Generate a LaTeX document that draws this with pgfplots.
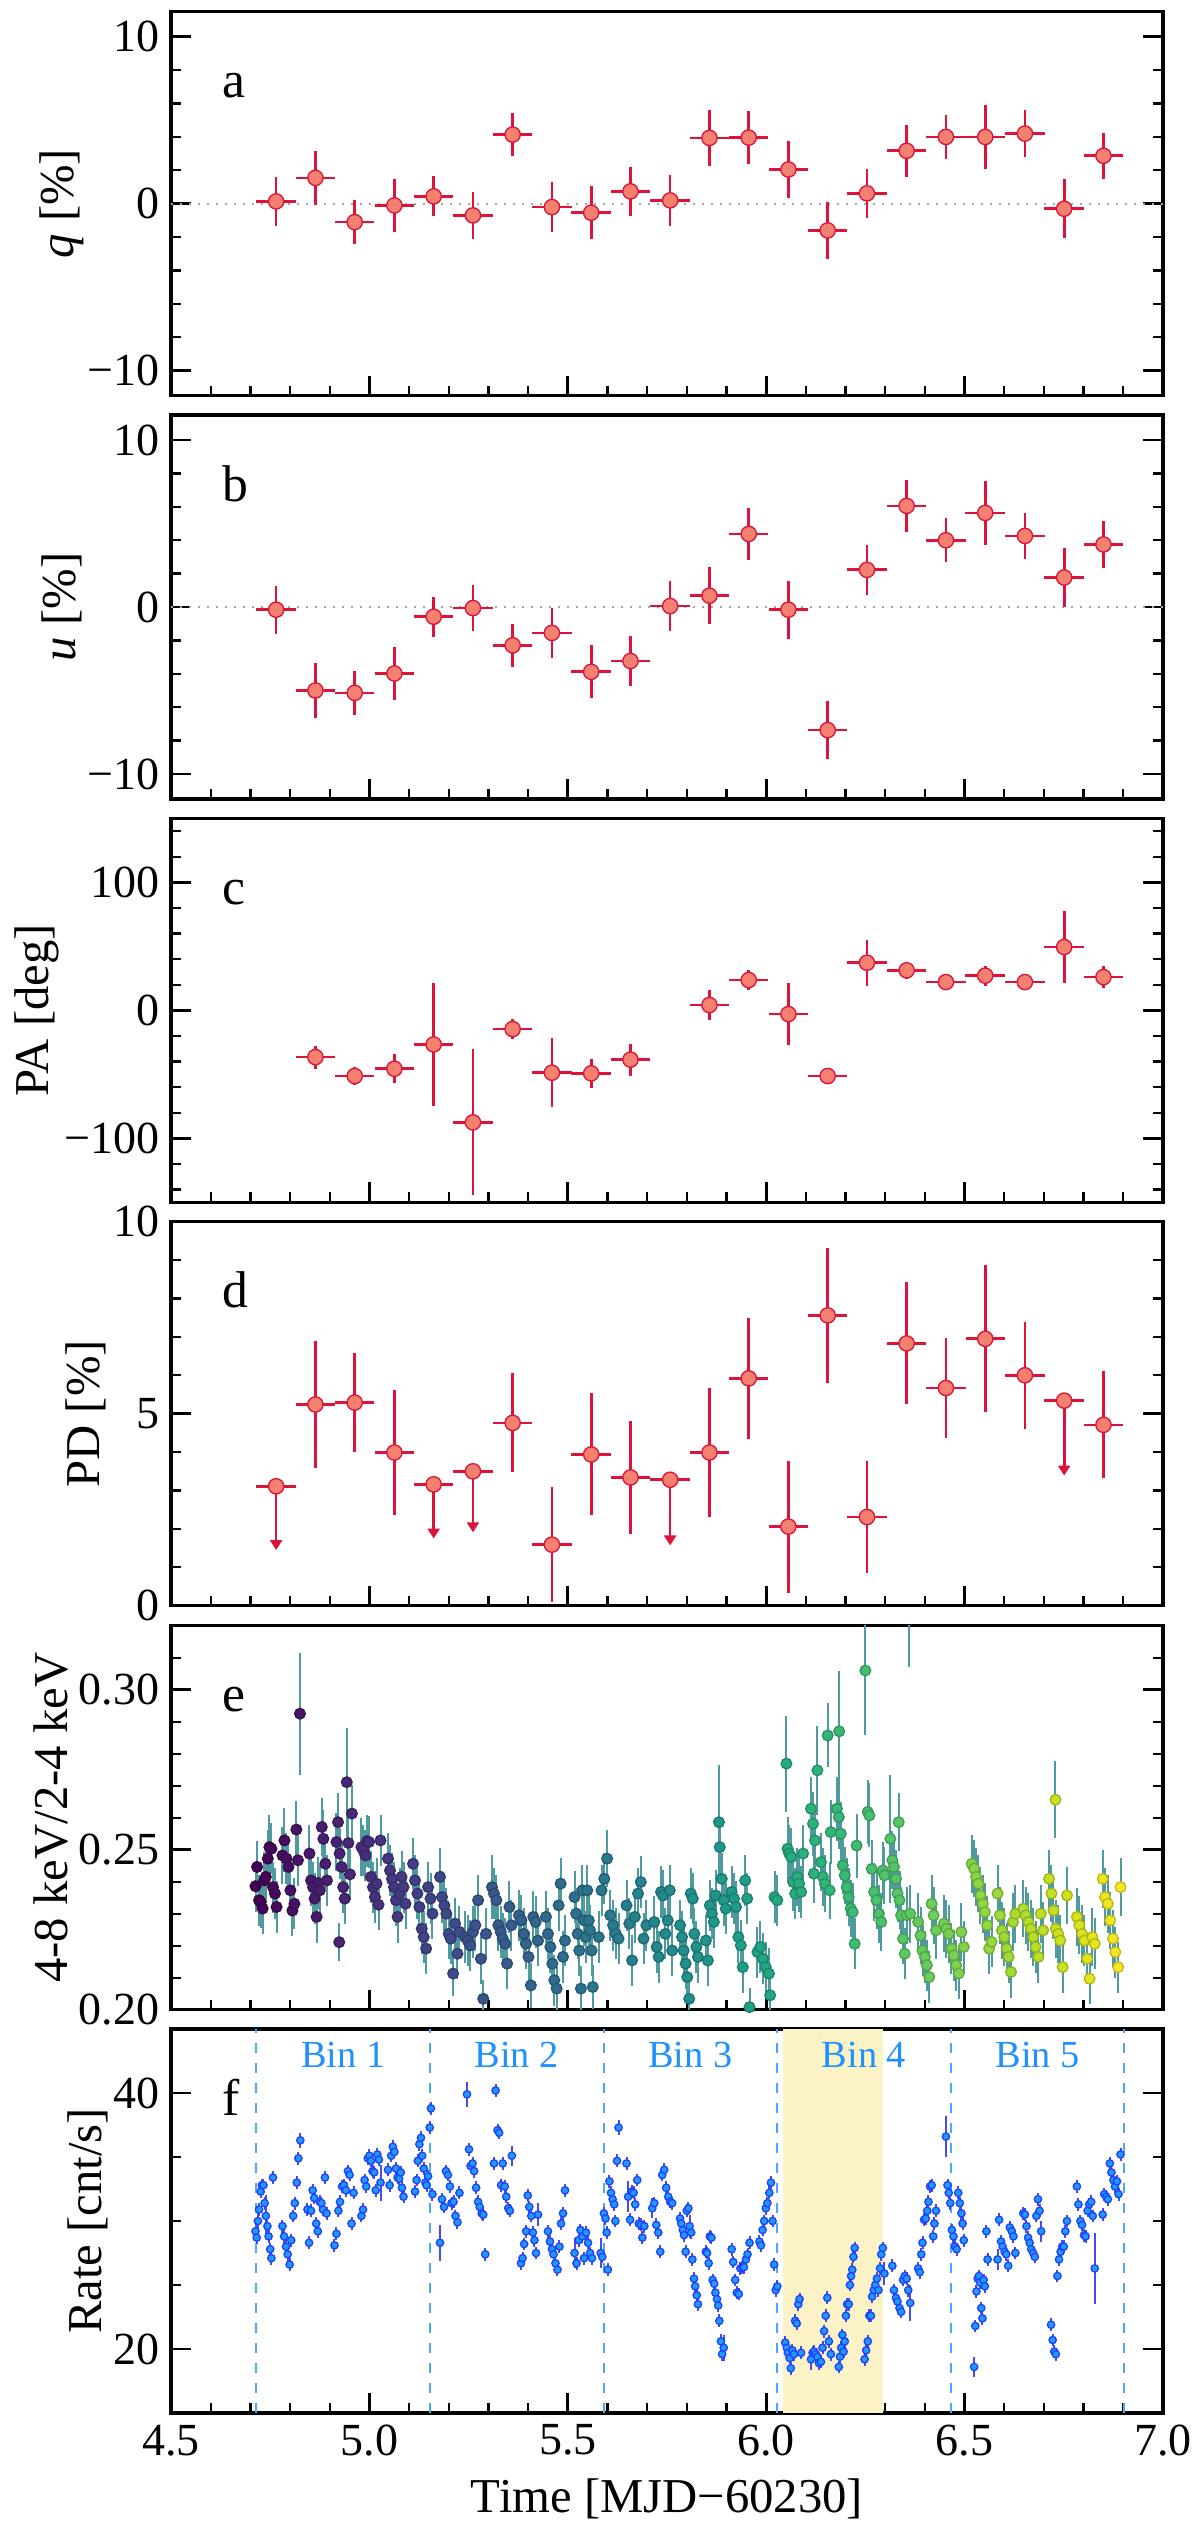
\documentclass[border=0pt]{standalone}
\usepackage{pgfplots}
\pgfplotsset{compat=1.18}
\usepackage{pgfplotstable}
\usepackage{fontspec}
\setmainfont{Liberation Serif}
\usetikzlibrary{arrows.meta}
\definecolor{crim}{HTML}{DC143C}
\definecolor{salm}{HTML}{F4806F}
\definecolor{errteal}{HTML}{4F9A9E}
\definecolor{fedge}{HTML}{2040FF}
\definecolor{ffill}{HTML}{1E9BFF}
\definecolor{ferr}{HTML}{4B4BE6}
\definecolor{binblue}{HTML}{1E90FF}
\definecolor{bindash}{HTML}{4DA6FF}
\definecolor{shade}{HTML}{FBF2C6}
\newcommand\tfs{\fontsize{13.8}{14}\selectfont}
\newcommand\lfs{\fontsize{14.6}{15}\selectfont}
\newcommand\pfs{\fontsize{15.5}{16}\selectfont}

\pgfplotstableread[row sep=\\]{
x y e\\
4.765 0.14 1.45\\ 4.864 1.55 1.6\\ 4.963 -1.1 1.3\\ 5.063 -0.1 1.6\\ 5.162 0.44 1.2\\
5.261 -0.7 1.4\\ 5.361 4.14 1.27\\ 5.460 -0.2 1.5\\ 5.559 -0.54 1.6\\ 5.658 0.74 1.47\\
5.758 0.2 1.53\\ 5.857 3.94 1.7\\ 5.956 3.96 1.57\\ 6.056 2.05 1.72\\ 6.155 -1.6 1.72\\
6.254 0.62 1.46\\ 6.354 3.17 1.57\\ 6.453 4.0 1.3\\ 6.552 4.0 1.9\\ 6.652 4.2 1.4\\
6.751 -0.3 1.76\\ 6.850 2.87 1.37\\
}\tabq
\pgfplotstableread[row sep=\\]{
x y e\\
4.765 -0.16 1.45\\ 4.864 -5.0 1.65\\ 4.963 -5.14 1.3\\ 5.063 -3.98 1.6\\ 5.162 -0.58 1.2\\
5.261 -0.06 1.4\\ 5.361 -2.29 1.28\\ 5.460 -1.55 1.5\\ 5.559 -3.88 1.58\\ 5.658 -3.23 1.48\\
5.758 0.06 1.52\\ 5.857 0.68 1.7\\ 5.956 4.38 1.58\\ 6.056 -0.16 1.73\\ 6.155 -7.37 1.75\\
6.254 2.23 1.48\\ 6.354 6.06 1.57\\ 6.453 4.0 1.33\\ 6.552 5.64 1.9\\ 6.652 4.26 1.4\\
6.751 1.77 1.76\\ 6.850 3.75 1.4\\
}\tabu
\pgfplotstableread[row sep=\\]{
x y e\\
4.864 -36.5 9\\ 4.963 -51.3 7\\ 5.063 -45.6 11.5\\ 5.162 -26.6 48\\ 5.261 -87.5 57\\
5.361 -14.6 7.5\\ 5.460 -48.7 27\\ 5.559 -49.2 11.3\\ 5.658 -38.5 12.5\\
5.857 4.2 12\\ 5.956 23.7 7.5\\ 6.056 -2.9 24\\ 6.155 -51.3 6.2\\ 6.254 37.2 18\\
6.354 31.3 6.5\\ 6.453 22.1 6.4\\ 6.552 27.1 7.8\\ 6.652 22.1 6.5\\ 6.751 49.5 28\\
6.850 26.0 8.3\\
}\tabpa
\pgfplotstableread[row sep=\\]{
x y e\\
4.864 5.24 1.66\\ 4.963 5.29 1.3\\ 5.063 3.99 1.63\\ 5.361 4.76 1.29\\ 5.460 1.59 1.49\\
5.559 3.94 1.59\\ 5.658 3.34 1.48\\ 5.857 3.99 1.68\\ 5.956 5.92 1.58\\ 6.056 2.06 1.72\\
6.155 7.56 1.75\\ 6.254 2.31 1.47\\ 6.354 6.83 1.59\\ 6.453 5.67 1.31\\ 6.552 6.95 1.91\\
6.652 6.0 1.39\\ 6.850 4.71 1.39\\
}\tabpd
\pgfplotstableread[row sep=\\]{
x y v\\
4.765 3.11 -1.66\\ 5.162 3.16 -1.41\\ 5.261 3.50 -1.59\\ 5.758 3.28 -1.71\\ 6.751 5.34 -1.95\\
}\tabul
\pgfplotstableread[row sep=\\]{
x y e\\
4.713 0.2386 0.008\\ 4.717 0.2446 0.008\\ 4.722 0.2342 0.008\\ 4.726 0.2336 0.008\\ 4.731 0.2316 0.008\\
4.735 0.2404 0.009\\ 4.739 0.2415 0.008\\ 4.744 0.2472 0.009\\ 4.748 0.2508 0.010\\ 4.753 0.2503 0.008\\
4.757 0.2383 0.008\\ 4.762 0.2363 0.008\\ 4.766 0.2321 0.008\\
4.781 0.2482 0.009\\ 4.786 0.2529 0.010\\ 4.791 0.2472 0.008\\ 4.796 0.2446 0.008\\ 4.801 0.2373 0.008\\
4.806 0.2310 0.008\\ 4.811 0.2331 0.008\\ 4.816 0.2563 0.009\\ 4.820 0.2467 0.008\\ 4.825 0.2925 0.019\\
4.849 0.2488 0.009\\ 4.853 0.2404 0.008\\ 4.858 0.2383 0.008\\ 4.862 0.2347 0.008\\ 4.867 0.2290 0.008\\
4.871 0.2396 0.008\\ 4.875 0.2373 0.008\\ 4.880 0.2571 0.009\\ 4.884 0.2534 0.009\\ 4.889 0.2456 0.008\\ 4.893 0.2404 0.008\\
4.917 0.2524 0.009\\ 4.921 0.2586 0.009\\ 4.925 0.2488 0.008\\ 4.930 0.2446 0.008\\ 4.934 0.2383 0.008\\
4.938 0.2347 0.008\\ 4.924 0.2211 0.006\\ 4.943 0.2711 0.017\\ 4.947 0.2521 0.009\\ 4.951 0.2423 0.008\\ 4.956 0.2613 0.009\\
4.980 0.2508 0.009\\ 4.985 0.2498 0.008\\ 4.990 0.2482 0.008\\ 4.994 0.2527 0.008\\ 4.999 0.2524 0.008\\
5.004 0.2415 0.008\\ 5.009 0.2383 0.008\\ 5.014 0.2352 0.008\\ 5.018 0.2394 0.008\\ 5.023 0.2328 0.008\\ 5.028 0.2529 0.008\\
5.047 0.2472 0.008\\ 5.052 0.2435 0.008\\ 5.057 0.2409 0.008\\ 5.062 0.2383 0.008\\ 5.067 0.2342 0.008\\
5.071 0.2290 0.008\\ 5.076 0.2363 0.008\\ 5.081 0.2415 0.008\\ 5.086 0.2383 0.008\\ 5.091 0.2331 0.008\\
5.110 0.2456 0.008\\ 5.115 0.2404 0.008\\ 5.121 0.2363 0.008\\ 5.126 0.2321 0.008\\ 5.132 0.2253 0.008\\
5.137 0.2227 0.008\\ 5.143 0.2191 0.008\\ 5.148 0.2383 0.008\\ 5.154 0.2347 0.008\\ 5.159 0.2300 0.008\\
5.178 0.2415 0.009\\ 5.183 0.2352 0.008\\ 5.189 0.2326 0.008\\ 5.194 0.2300 0.008\\ 5.200 0.2237 0.008\\
5.205 0.2222 0.008\\ 5.211 0.2113 0.007\\ 5.216 0.2269 0.008\\ 5.222 0.2175 0.008\\ 5.227 0.2243 0.008\\
5.241 0.2227 0.008\\ 5.248 0.2216 0.008\\ 5.254 0.2201 0.008\\ 5.261 0.2243 0.008\\ 5.267 0.2264 0.008\\
5.274 0.2342 0.008\\ 5.281 0.2159 0.008\\ 5.287 0.2034 0.006\\ 5.294 0.2237 0.008\\
5.309 0.2383 0.010\\ 5.314 0.2363 0.008\\ 5.320 0.2342 0.008\\ 5.325 0.2264 0.008\\ 5.331 0.2243 0.008\\
5.336 0.2222 0.008\\ 5.342 0.2206 0.008\\ 5.347 0.2144 0.008\\ 5.353 0.2321 0.008\\ 5.358 0.2264 0.008\\
5.377 0.2295 0.008\\ 5.383 0.2279 0.008\\ 5.389 0.2237 0.008\\ 5.395 0.2206 0.008\\ 5.401 0.2165 0.008\\
5.407 0.2076 0.007\\ 5.413 0.2290 0.008\\ 5.419 0.2274 0.008\\ 5.425 0.2216 0.008\\
5.445 0.2290 0.008\\ 5.450 0.2237 0.008\\ 5.456 0.2196 0.008\\ 5.461 0.2144 0.008\\ 5.466 0.2092 0.008\\
5.472 0.2066 0.007\\ 5.477 0.2326 0.008\\ 5.482 0.2394 0.008\\ 5.488 0.2165 0.008\\ 5.493 0.2216 0.008\\
5.517 0.2352 0.008\\ 5.521 0.2300 0.008\\ 5.525 0.2237 0.008\\ 5.529 0.2185 0.008\\ 5.533 0.2066 0.007\\
5.537 0.2373 0.008\\ 5.541 0.2279 0.008\\ 5.545 0.2227 0.008\\ 5.549 0.2373 0.008\\ 5.553 0.2279 0.008\\
5.556 0.2248 0.008\\ 5.560 0.2185 0.008\\ 5.563 0.2071 0.007\\
5.578 0.2227 0.008\\ 5.585 0.2373 0.008\\ 5.592 0.2409 0.008\\ 5.599 0.2472 0.009\\ 5.607 0.2295 0.008\\
5.614 0.2264 0.008\\ 5.621 0.2237 0.008\\ 5.628 0.2222 0.008\\
5.648 0.2326 0.008\\ 5.655 0.2269 0.008\\ 5.662 0.2154 0.008\\ 5.669 0.2290 0.008\\ 5.677 0.2363 0.008\\
5.684 0.2399 0.008\\ 5.691 0.2222 0.008\\ 5.698 0.2264 0.008\\
5.718 0.2274 0.008\\ 5.724 0.2196 0.008\\ 5.729 0.2165 0.008\\ 5.735 0.2368 0.008\\ 5.740 0.2357 0.008\\
5.746 0.2237 0.008\\ 5.752 0.2279 0.008\\ 5.757 0.2373 0.008\\ 5.763 0.2185 0.008\\
5.783 0.2264 0.008\\ 5.788 0.2227 0.008\\ 5.792 0.2185 0.008\\ 5.797 0.2144 0.008\\ 5.801 0.2102 0.008\\
5.806 0.2034 0.007\\ 5.810 0.2363 0.008\\ 5.815 0.2347 0.008\\ 5.819 0.2237 0.008\\ 5.824 0.2196 0.008\\ 5.828 0.2165 0.008\\
5.848 0.2216 0.008\\ 5.853 0.2154 0.008\\ 5.858 0.2326 0.008\\ 5.863 0.2300 0.008\\ 5.868 0.2274 0.008\\
5.873 0.2357 0.008\\ 5.881 0.2586 0.018\\ 5.883 0.2508 0.009\\ 5.888 0.2409 0.008\\ 5.893 0.2342 0.008\\ 5.898 0.2316 0.008\\
5.913 0.2368 0.008\\ 5.919 0.2347 0.008\\ 5.924 0.2321 0.008\\ 5.930 0.2227 0.008\\ 5.936 0.2201 0.008\\
5.941 0.2133 0.008\\ 5.947 0.2404 0.008\\ 5.952 0.2347 0.008\\ 5.958 0.2008 0.006\\
5.978 0.2180 0.008\\ 5.985 0.2196 0.008\\ 5.992 0.2159 0.008\\ 5.999 0.2133 0.008\\ 6.007 0.2113 0.008\\
6.010 0.2045 0.007\\ 6.021 0.2352 0.008\\ 6.028 0.2342 0.008\\
6.051 0.2769 0.015\\ 6.054 0.2503 0.010\\ 6.058 0.2488 0.009\\ 6.063 0.2477 0.009\\ 6.068 0.2399 0.009\\
6.073 0.2363 0.008\\ 6.078 0.2415 0.009\\ 6.083 0.2394 0.009\\ 6.088 0.2368 0.008\\ 6.093 0.2488 0.009\\
6.129 0.2748 0.014\\ 6.155 0.2857 0.010\\ 6.184 0.2870 0.019\\ 6.113 0.2628 0.010\\ 6.118 0.2581 0.010\\
6.123 0.2529 0.009\\ 6.138 0.2461 0.009\\ 6.143 0.2415 0.009\\ 6.148 0.2394 0.009\\ 6.160 0.2373 0.009\\
6.163 0.2555 0.010\\ 6.120 0.2425 0.009\\
6.178 0.2628 0.010\\ 6.183 0.2602 0.010\\ 6.188 0.2550 0.010\\ 6.193 0.2451 0.009\\ 6.198 0.2420 0.009\\
6.203 0.2383 0.009\\ 6.208 0.2352 0.009\\ 6.213 0.2316 0.009\\ 6.218 0.2305 0.009\\ 6.223 0.2206 0.008\\ 6.228 0.2513 0.010\\
6.250 0.3060 0.020\\ 6.360 0.3350 0.028\\ 6.256 0.2618 0.010\\ 6.260 0.2607 0.010\\ 6.266 0.2440 0.009\\
6.272 0.2368 0.009\\ 6.278 0.2342 0.009\\ 6.284 0.2300 0.009\\ 6.290 0.2274 0.009\\ 6.294 0.2435 0.009\\ 6.298 0.2420 0.009\\
6.313 0.2534 0.020\\ 6.318 0.2467 0.009\\ 6.322 0.2446 0.009\\ 6.327 0.2409 0.009\\ 6.331 0.2363 0.009\\
6.336 0.2342 0.009\\ 6.340 0.2295 0.009\\ 6.345 0.2222 0.008\\ 6.349 0.2175 0.008\\ 6.334 0.2586 0.009\\
6.354 0.2295 0.009\\ 6.363 0.2300 0.009\\
6.383 0.2274 0.009\\ 6.389 0.2232 0.009\\ 6.394 0.2185 0.008\\ 6.400 0.2165 0.008\\ 6.405 0.2139 0.008\\
6.411 0.2102 0.008\\ 6.417 0.2331 0.009\\ 6.422 0.2295 0.009\\ 6.428 0.2248 0.009\\
6.448 0.2269 0.009\\ 6.454 0.2253 0.009\\ 6.460 0.2237 0.009\\ 6.467 0.2191 0.008\\ 6.473 0.2170 0.008\\
6.479 0.2139 0.008\\ 6.485 0.2113 0.008\\ 6.492 0.2243 0.009\\ 6.498 0.2196 0.008\\
6.518 0.2456 0.009\\ 6.524 0.2441 0.009\\ 6.529 0.2415 0.009\\ 6.535 0.2394 0.009\\ 6.540 0.2357 0.009\\
6.546 0.2331 0.009\\ 6.551 0.2305 0.009\\ 6.557 0.2264 0.009\\ 6.562 0.2191 0.008\\ 6.568 0.2212 0.008\\
6.583 0.2363 0.009\\ 6.589 0.2295 0.009\\ 6.594 0.2248 0.009\\ 6.600 0.2227 0.009\\ 6.606 0.2191 0.008\\
6.611 0.2165 0.008\\ 6.617 0.2118 0.008\\ 6.622 0.2274 0.009\\ 6.628 0.2300 0.009\\
6.648 0.2316 0.009\\ 6.654 0.2295 0.009\\ 6.661 0.2274 0.009\\ 6.667 0.2253 0.009\\ 6.673 0.2227 0.009\\
6.679 0.2196 0.008\\ 6.686 0.2165 0.008\\ 6.692 0.2300 0.009\\ 6.698 0.2248 0.009\\
6.713 0.2409 0.009\\ 6.719 0.2363 0.009\\ 6.724 0.2310 0.009\\ 6.730 0.2253 0.009\\ 6.736 0.2237 0.009\\
6.741 0.2216 0.008\\ 6.747 0.2133 0.008\\ 6.729 0.2656 0.012\\ 6.758 0.2357 0.009\\
6.783 0.2290 0.009\\ 6.789 0.2264 0.009\\ 6.796 0.2237 0.009\\ 6.802 0.2216 0.008\\ 6.809 0.2159 0.008\\
6.815 0.2097 0.008\\ 6.822 0.2227 0.009\\ 6.828 0.2206 0.008\\
6.848 0.2409 0.009\\ 6.854 0.2352 0.009\\ 6.861 0.2331 0.009\\ 6.867 0.2279 0.009\\ 6.874 0.2222 0.009\\
6.880 0.2180 0.008\\ 6.887 0.2133 0.008\\ 6.893 0.2383 0.009\\
}\tabE
\pgfplotstableread[row sep=\\]{
x y e\\
4.713 29.2 0.5\\ 4.716 28.7 0.5\\ 4.719 30.0 0.6\\ 4.722 30.9 0.5\\ 4.726 32.3 0.5\\ 4.729 32.8 0.5\\ 4.733 32.8 0.5\\
4.736 31.4 0.5\\ 4.739 30.4 1.6\\ 4.743 29.6 0.5\\ 4.746 28.8 0.5\\ 4.750 27.8 0.5\\ 4.753 27.1 0.5\\ 4.757 33.4 0.5\\
4.781 29.6 0.5\\ 4.785 28.8 0.9\\ 4.790 28.0 0.5\\ 4.794 27.4 0.5\\ 4.799 26.6 0.5\\ 4.803 28.5 0.5\\ 4.808 30.4 0.5\\
4.812 31.4 0.5\\ 4.817 33.0 0.5\\ 4.821 34.9 0.5\\ 4.826 36.3 0.6\\
4.844 30.9 0.5\\ 4.848 28.3 0.5\\ 4.853 30.8 0.5\\ 4.857 32.4 0.5\\ 4.861 31.8 0.5\\ 4.866 29.8 0.5\\ 4.870 29.2 0.5\\
4.875 31.5 0.5\\ 4.879 31.4 0.5\\ 4.883 30.9 0.5\\ 4.888 33.4 0.5\\ 4.892 30.6 0.5\\
4.912 28.1 0.5\\ 4.917 29.0 0.5\\ 4.922 30.8 0.5\\ 4.926 31.5 0.5\\ 4.931 32.7 0.5\\ 4.936 32.8 0.5\\ 4.941 32.4 0.5\\
4.946 33.9 0.5\\ 4.950 33.6 0.5\\ 4.955 29.8 0.5\\ 4.960 32.2 0.5\\
4.980 30.4 0.5\\ 4.984 30.9 0.5\\ 4.988 33.2 0.5\\ 4.992 32.7 0.5\\ 4.996 34.9 0.5\\ 5.000 35.1 0.5\\ 5.004 34.7 0.5\\
5.008 33.9 0.5\\ 5.012 33.8 0.5\\ 5.016 32.4 0.5\\ 5.020 35.2 0.5\\ 5.024 34.8 0.5\\ 5.028 33.0 1.4\\
5.047 34.0 0.5\\ 5.051 32.8 0.5\\ 5.055 35.1 0.5\\ 5.059 35.8 0.5\\ 5.063 35.4 0.5\\ 5.067 34.1 0.5\\ 5.071 33.4 0.5\\
5.075 33.3 0.5\\ 5.079 33.8 0.5\\ 5.082 32.6 0.5\\ 5.086 31.9 0.5\\
5.115 32.3 0.5\\ 5.119 33.2 0.5\\ 5.122 34.7 0.5\\ 5.126 36.0 0.5\\ 5.130 36.5 0.5\\ 5.133 35.1 0.5\\ 5.137 34.1 0.5\\
5.141 33.0 0.5\\ 5.144 32.8 0.5\\ 5.148 33.5 0.5\\ 5.152 37.3 0.5\\ 5.155 38.8 0.5\\ 5.159 32.1 0.5\\
5.178 28.3 1.4\\ 5.183 31.7 0.5\\ 5.188 31.1 0.5\\ 5.193 33.9 0.5\\ 5.198 33.6 0.5\\ 5.203 32.7 0.5\\ 5.207 31.4 0.5\\
5.212 31.5 0.5\\ 5.217 30.4 0.5\\ 5.222 29.9 0.5\\ 5.227 32.2 0.5\\
5.246 39.9 1.0\\ 5.251 35.6 0.5\\ 5.255 34.3 0.5\\ 5.260 34.5 0.5\\ 5.264 33.9 0.5\\ 5.269 32.6 0.5\\ 5.274 31.5 0.5\\
5.278 31.1 0.5\\ 5.283 30.6 0.5\\ 5.287 30.5 0.5\\ 5.292 27.4 0.5\\
5.314 34.5 0.5\\ 5.318 40.2 0.5\\ 5.323 37.1 0.5\\ 5.327 36.9 0.5\\ 5.332 32.8 0.5\\ 5.336 34.5 0.5\\ 5.341 32.7 0.5\\
5.345 31.9 0.5\\ 5.350 31.0 0.5\\ 5.354 30.8 0.5\\ 5.359 35.1 0.8\\
5.382 26.7 0.5\\ 5.386 27.1 0.5\\ 5.390 28.2 0.5\\ 5.395 29.2 0.5\\ 5.399 32.0 0.5\\ 5.403 31.1 0.5\\ 5.408 30.4 0.5\\
5.412 29.1 0.5\\ 5.416 28.5 0.5\\ 5.420 27.5 0.5\\ 5.425 30.5 0.9\\
5.450 29.2 0.5\\ 5.455 28.4 0.5\\ 5.460 27.8 0.5\\ 5.464 27.4 0.5\\ 5.469 26.7 0.5\\ 5.474 26.2 0.5\\ 5.479 28.0 0.5\\
5.483 29.8 0.5\\ 5.488 30.6 0.5\\ 5.493 32.4 0.5\\
5.517 27.5 1.2\\ 5.522 26.7 0.5\\ 5.527 28.5 0.5\\ 5.532 29.3 0.5\\ 5.537 28.8 0.5\\ 5.541 27.1 0.5\\ 5.546 29.1 0.5\\
5.551 28.3 0.5\\ 5.556 27.5 0.5\\ 5.561 27.1 0.5\\
5.583 27.5 1.2\\ 5.587 27.2 0.5\\ 5.591 30.6 0.5\\ 5.595 30.2 0.5\\ 5.598 29.1 0.5\\ 5.601 26.2 0.5\\ 5.605 33.1 0.5\\
5.609 32.2 0.5\\ 5.613 31.7 0.5\\ 5.617 31.3 0.5\\ 5.620 30.0 0.5\\ 5.624 34.7 0.5\\ 5.628 37.3 0.6\\
5.648 34.5 0.5\\ 5.652 31.9 1.2\\ 5.657 30.1 0.5\\ 5.661 32.3 0.5\\ 5.666 32.2 0.5\\ 5.670 31.3 0.5\\ 5.675 33.2 0.5\\
5.679 29.8 0.5\\ 5.684 29.7 0.5\\ 5.688 28.7 0.5\\ 5.693 29.6 0.5\\
5.713 31.0 0.8\\ 5.718 31.4 0.5\\ 5.723 29.7 0.5\\ 5.728 29.1 0.5\\ 5.733 27.6 0.5\\ 5.738 33.6 0.5\\ 5.743 34.0 0.5\\
5.748 32.6 0.5\\ 5.753 31.9 0.5\\ 5.758 31.5 0.5\\ 5.763 31.4 0.5\\
5.783 30.2 0.5\\ 5.786 29.8 0.5\\ 5.790 29.3 0.5\\ 5.793 28.9 0.5\\ 5.797 27.6 0.5\\ 5.800 30.8 0.5\\ 5.804 31.0 0.5\\
5.807 29.6 0.9\\ 5.811 29.1 0.5\\ 5.814 27.0 0.5\\ 5.818 25.5 0.5\\ 5.821 24.9 0.5\\ 5.825 24.2 0.5\\ 5.828 23.5 0.5\\
5.848 27.6 0.5\\ 5.851 27.5 0.5\\ 5.855 26.7 0.5\\ 5.858 28.8 0.5\\ 5.862 28.7 0.5\\ 5.865 25.4 0.5\\ 5.869 25.1 0.5\\
5.872 24.4 0.5\\ 5.876 23.9 0.5\\ 5.879 23.4 0.5\\ 5.882 22.2 0.5\\ 5.886 20.6 0.6\\ 5.889 19.6 0.5\\ 5.893 20.1 1.0\\
5.913 27.8 0.5\\ 5.917 26.8 0.5\\ 5.922 25.4 0.5\\ 5.926 24.4 0.5\\ 5.931 24.3 0.5\\ 5.935 26.3 0.5\\ 5.940 26.4 0.5\\
5.944 26.4 0.5\\ 5.949 27.0 0.5\\ 5.953 27.4 0.5\\ 5.958 28.3 0.5\\
5.983 28.4 0.5\\ 5.987 28.1 0.5\\ 5.991 29.3 0.5\\ 5.995 30.0 0.5\\ 5.999 31.0 0.5\\ 6.003 31.4 0.5\\ 6.008 32.2 0.5\\
6.012 33.0 0.5\\ 6.016 30.0 0.5\\ 6.020 26.6 0.5\\ 6.024 24.6 0.5\\ 6.028 24.9 0.5\\
6.048 20.5 0.5\\ 6.052 20.1 0.5\\ 6.055 19.7 0.5\\ 6.059 19.3 0.5\\ 6.062 18.5 0.5\\ 6.066 19.9 0.5\\ 6.070 19.6 0.5\\
6.073 22.2 0.5\\ 6.077 22.0 0.5\\ 6.081 23.5 0.5\\ 6.084 23.9 0.5\\ 6.088 19.7 0.5\\
6.113 19.2 0.8\\ 6.117 19.7 0.5\\ 6.121 19.8 0.5\\ 6.125 19.6 0.5\\ 6.129 19.4 0.5\\ 6.133 18.9 0.5\\ 6.138 19.0 0.5\\
6.142 20.1 0.5\\ 6.146 21.4 0.5\\ 6.150 22.6 0.5\\ 6.154 24.0 0.5\\ 6.158 20.6 0.5\\ 6.163 19.6 0.5\\
6.183 18.6 0.5\\ 6.186 19.4 0.5\\ 6.189 20.1 0.5\\ 6.192 21.1 0.5\\ 6.195 19.8 0.5\\ 6.198 20.6 0.5\\ 6.201 22.6 0.5\\
6.204 23.5 0.5\\ 6.208 23.5 0.5\\ 6.211 25.0 0.5\\ 6.214 25.7 0.5\\ 6.217 26.2 0.5\\ 6.220 27.2 0.5\\ 6.223 27.9 0.5\\
6.248 19.2 0.5\\ 6.252 19.9 0.5\\ 6.256 20.6 0.5\\ 6.260 22.6 0.5\\ 6.264 22.6 0.5\\ 6.267 24.1 0.5\\ 6.271 24.6 0.5\\
6.275 25.0 0.5\\ 6.279 25.5 0.5\\ 6.283 24.6 0.5\\ 6.287 26.3 0.5\\ 6.290 27.4 0.5\\ 6.294 27.9 0.5\\ 6.298 25.9 0.9\\
6.318 26.5 0.5\\ 6.322 24.6 0.5\\ 6.327 24.0 0.5\\ 6.331 23.7 0.5\\ 6.336 23.2 0.5\\ 6.340 22.9 0.5\\ 6.345 25.4 0.5\\
6.349 25.7 0.5\\ 6.354 25.5 0.5\\ 6.358 24.6 0.5\\ 6.363 23.6 1.4\\
6.383 26.3 0.5\\ 6.387 26.0 0.5\\ 6.391 27.4 0.5\\ 6.394 28.3 0.5\\ 6.398 30.1 0.5\\ 6.402 30.2 0.5\\ 6.406 30.8 0.5\\
6.409 31.5 0.5\\ 6.413 32.7 0.5\\ 6.417 32.8 0.5\\ 6.421 28.8 0.5\\ 6.424 29.8 0.5\\ 6.428 30.8 0.5\\
6.453 36.6 1.6\\ 6.457 32.8 0.5\\ 6.460 32.2 0.5\\ 6.464 31.4 0.5\\ 6.468 29.3 0.5\\ 6.472 28.8 0.5\\ 6.476 28.0 0.5\\
6.480 27.8 0.5\\ 6.484 32.2 0.5\\ 6.488 31.4 0.5\\ 6.492 30.6 0.5\\ 6.495 29.8 0.5\\ 6.498 28.5 0.5\\
6.524 18.6 0.8\\ 6.527 21.8 0.5\\ 6.530 24.5 0.5\\ 6.533 25.5 0.5\\ 6.536 25.7 0.5\\ 6.539 25.2 0.5\\ 6.542 23.2 0.5\\
6.545 22.4 0.5\\ 6.548 25.4 0.5\\ 6.551 24.9 0.5\\ 6.555 29.2 0.5\\ 6.558 27.0 0.5\\
6.583 27.0 0.8\\ 6.587 30.1 0.5\\ 6.592 28.4 0.5\\ 6.596 28.0 0.5\\ 6.601 27.6 0.5\\ 6.605 27.4 0.5\\ 6.610 26.5 0.5\\
6.614 29.5 0.5\\ 6.619 29.2 0.5\\ 6.623 28.8 0.5\\ 6.628 27.5 0.5\\
6.648 30.6 0.5\\ 6.652 30.5 0.5\\ 6.656 29.6 0.5\\ 6.660 28.7 0.5\\ 6.664 28.3 0.5\\ 6.668 27.8 0.5\\ 6.673 27.5 0.5\\
6.677 27.2 0.5\\ 6.681 30.4 0.5\\ 6.685 31.7 0.5\\ 6.689 30.8 0.5\\ 6.693 29.2 0.8\\
6.718 21.9 0.5\\ 6.722 20.7 0.5\\ 6.726 19.8 0.5\\ 6.730 19.6 0.5\\ 6.734 25.7 0.5\\ 6.738 27.0 0.5\\ 6.742 27.6 0.5\\
6.746 28.0 0.5\\ 6.750 28.0 0.5\\ 6.754 29.2 0.5\\ 6.758 30.0 0.5\\
6.783 32.7 0.5\\ 6.787 31.3 0.5\\ 6.792 30.0 0.5\\ 6.796 29.7 0.5\\ 6.801 28.9 0.5\\ 6.805 28.8 0.5\\ 6.810 30.8 0.5\\
6.814 31.3 0.5\\ 6.819 31.5 0.5\\ 6.823 30.4 0.5\\ 6.828 26.3 2.8\\
6.848 30.5 0.5\\ 6.852 32.1 0.5\\ 6.857 31.9 0.5\\ 6.861 31.7 0.5\\ 6.866 34.5 0.5\\ 6.870 33.8 0.5\\ 6.875 33.2 0.5\\
6.879 32.7 0.5\\ 6.884 33.1 0.5\\ 6.888 32.1 0.5\\ 6.893 35.2 0.5\\
}\tabF

\pgfplotsset{
  panel/.style={
    width=297.6pt, height=115.2pt, scale only axis, anchor=north west,
    xmin=4.5, xmax=7.0,
    xtick={4.5,5.0,5.5,6.0,6.5,7.0}, xticklabels={},
    minor xtick={4.6,4.7,4.8,4.9,5.1,5.2,5.3,5.4,5.6,5.7,5.8,5.9,6.1,6.2,6.3,6.4,6.6,6.7,6.8,6.9},
    xtick pos=left, ytick pos=both, tick align=inside,
    major tick length=6pt, minor tick length=3pt,
    major tick style={black, line width=0.8pt},
    minor tick style={black, line width=0.7pt},
    axis line style={line width=1pt},
    tick label style={font=\tfs},
    label style={font=\lfs},
  },
  ylpos/.style={ylabel style={at={(rel axis cs:#1,0.5)}, anchor=center, inner sep=0pt}},
  pol/.style={only marks, mark=*, mark size=2.3pt,
    mark options={fill=salm, draw=crim, line width=0.4pt},
    error bars/.cd, x dir=both, x fixed=0.0497, y dir=both, y explicit,
    error mark=none, error bar style={crim, line width=0.8pt}},
}
\newcommand\plab[1]{\node[anchor=base west, font=\pfs, inner sep=0pt] at (rel axis cs:0.051,0.776) {#1};}

\begin{document}
\begin{tikzpicture}
% a
\begin{axis}[panel, at={(0pt,0pt)}, ymin=-11.5, ymax=11.5,
  ytick={-10,0,10}, yticklabels={−10,0,10}, minor ytick={-8,-6,-4,-2,2,4,6,8},
  ylabel={\textit{q} [\%]}, ylpos=-0.110]
\addplot[gray!70, dotted, line width=0.7pt] coordinates {(4.5,0) (7.0,0)};
\addplot[pol] table[x=x, y=y, y error=e] {\tabq};
\plab{a}
\end{axis}
% b
\begin{axis}[panel, at={(0pt,-121pt)}, ymin=-11.5, ymax=11.5,
  ytick={-10,0,10}, yticklabels={−10,0,10}, minor ytick={-8,-6,-4,-2,2,4,6,8},
  ylabel={\textit{u} [\%]}, ylpos=-0.110]
\addplot[gray!70, dotted, line width=0.7pt] coordinates {(4.5,0) (7.0,0)};
\addplot[pol] table[x=x, y=y, y error=e] {\tabu};
\plab{b}
\end{axis}
% c
\begin{axis}[panel, at={(0pt,-242pt)}, ymin=-150, ymax=150,
  ytick={-100,0,100}, yticklabels={−100,0,100},
  minor ytick={-140,-120,-80,-60,-40,-20,20,40,60,80,120,140},
  ylabel={PA [deg]}, ylpos=-0.135]
\addplot[pol] table[x=x, y=y, y error=e] {\tabpa};
\plab{c}
\end{axis}
% d
\begin{axis}[panel, at={(0pt,-363pt)}, ymin=0, ymax=10,
  ytick={0,5,10}, yticklabels={0,5,10}, minor ytick={1,2,3,4,6,7,8,9},
  ylabel={PD [\%]}, ylpos=-0.086]
\addplot[pol] table[x=x, y=y, y error=e] {\tabpd};
\addplot[crim, line width=0.8pt, -{Triangle[length=3pt,width=3.6pt]},
  quiver={u=0, v=\thisrow{v}}] table[x=x, y=y] {\tabul};
\addplot[only marks, mark=*, mark size=2.3pt,
  mark options={fill=salm, draw=crim, line width=0.4pt},
  error bars/.cd, x dir=both, x fixed=0.0497,
  error mark=none, error bar style={crim, line width=0.8pt}] table[x=x, y=y] {\tabul};
\plab{d}
\end{axis}
% e
\begin{axis}[panel, at={(0pt,-484.2pt)}, ymin=0.20, ymax=0.32,
  ytick={0.20,0.25,0.30}, yticklabels={0.20,0.25,0.30},
  minor ytick={0.21,0.22,0.23,0.24,0.26,0.27,0.28,0.29,0.31},
  ylabel={4-8 keV/2-4 keV}, ylpos=-0.121, colormap name=viridis]
\addplot[scatter, only marks, mark=*, mark size=1.6pt, scatter src=x,
  point meta min=4.71, point meta max=6.91,
  error bars/.cd, y dir=both, y explicit, error mark=none,
  error bar style={errteal, line width=0.6pt}] table[x=x, y=y, y error=e] {\tabE};
\plab{e}
\end{axis}
% f
\begin{axis}[panel, at={(0pt,-605.2pt)}, ymin=15, ymax=45,
  ytick={20,40}, yticklabels={20,40}, minor ytick={25,30,35},
  xticklabels={4.5,5.0,5.5,6.0,6.5,7.0},
  ylabel={Rate [cnt/s]}, ylpos=-0.084, xlabel={Time [MJD−60230]}]
\addplot[fill=shade, draw=none] coordinates {(6.043,15) (6.295,15) (6.295,45) (6.043,45)} -- cycle;
\addplot[bindash, dashed, line width=0.6pt] coordinates {(4.715,15) (4.715,45)};
\addplot[bindash, dashed, line width=0.6pt] coordinates {(5.153,15) (5.153,45)};
\addplot[bindash, dashed, line width=0.6pt] coordinates {(5.590,15) (5.590,45)};
\addplot[bindash, dashed, line width=0.6pt] coordinates {(6.028,15) (6.028,45)};
\addplot[bindash, dashed, line width=0.6pt] coordinates {(6.465,15) (6.465,45)};
\addplot[bindash, dashed, line width=0.6pt] coordinates {(6.903,15) (6.903,45)};
\addplot[only marks, mark=*, mark size=1.1pt, mark options={fill=ffill, draw=fedge, line width=0.4pt},
  error bars/.cd, y dir=both, y explicit, error mark=none,
  error bar style={ferr, line width=0.6pt}] table[x=x, y=y, y error=e] {\tabF};
\node[text=binblue, font=\fontsize{11.5}{12}\selectfont] at (axis cs:4.934,42.97) {Bin 1};
\node[text=binblue, font=\fontsize{11.5}{12}\selectfont] at (axis cs:5.3715,42.97) {Bin 2};
\node[text=binblue, font=\fontsize{11.5}{12}\selectfont] at (axis cs:5.809,42.97) {Bin 3};
\node[text=binblue, font=\fontsize{11.5}{12}\selectfont] at (axis cs:6.2465,42.97) {Bin 4};
\node[text=binblue, font=\fontsize{11.5}{12}\selectfont] at (axis cs:6.684,42.97) {Bin 5};
\plab{f}
\end{axis}
\pgfresetboundingbox
\path[use as bounding box] (-51.3pt,3.51pt) rectangle (308.7pt,-755.2pt);
\end{tikzpicture}
\end{document}
